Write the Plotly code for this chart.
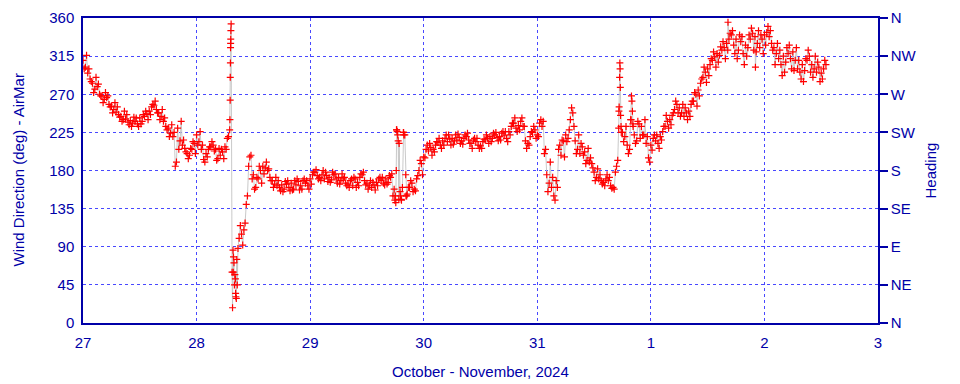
import numpy as np
import plotly.graph_objects as go

# Wind direction readings (deg) on the hour and half hour, from Oct 27 00:00
# (one line = 4 hours)
wind_deg = [
    310, 302, 295, 288, 283, 276, 279, 270,   # h0-3
    268, 264, 266, 258, 256, 252, 249, 246,   # h4-7
    244, 240, 241, 237, 239, 236, 238, 235,   # h8-11
    242, 238, 244, 247, 250, 255, 257, 252,   # h12-15
    248, 244, 238, 232, 230, 224, 220, 185,   # h16-19
    230, 215, 210, 206, 200, 198, 205, 212,   # h20-23
    222, 214, 205, 193, 200, 205, 208, 210,   # h24-27
    205, 194, 198, 202, 208, 218, 228, 60,    # h28-31
    45, 75, 100, 105, 110, 140, 185, 198,     # h32-35
    175, 160, 170, 180, 185, 183, 180, 172,   # h36-39
    168, 164, 162, 160, 163, 158, 164, 160,   # h40-43
    165, 158, 163, 167, 162, 168, 165, 162,   # h44-47
    170, 175, 178, 174, 172, 175, 170, 174,   # h48-51
    172, 169, 175, 170, 172, 168, 170, 165,   # h52-55
    164, 168, 162, 170, 166, 172, 175, 168,   # h56-59
    165, 162, 160, 163, 166, 170, 168, 165,   # h60-63
    170, 166, 172, 150, 150, 222, 155, 160,   # h64-67
    222, 152, 160, 165, 158, 170, 180, 188,   # h68-71
    196, 205, 203, 207, 205, 210, 213, 210,   # h72-75
    215, 218, 214, 217, 218, 215, 216, 219,   # h76-79
    215, 218, 220, 216, 212, 216, 214, 210,   # h80-83
    209, 214, 216, 218, 220, 218, 222, 219,   # h84-87
    220, 224, 221, 218, 226, 232, 236, 230,   # h88-91
    233, 238, 232, 215, 212, 220, 225, 228,   # h92-95
    222, 236, 232, 200, 175, 165, 160, 150,   # h96-99
    168, 205, 198, 215, 222, 218, 240, 248,   # h100-103
    215, 205, 200, 208, 202, 192, 190, 188,   # h104-107
    178, 172, 170, 168, 166, 170, 168, 162,   # h108-111
    160, 178, 192, 300, 225, 220, 210, 205,   # h112-115
    262, 222, 215, 235, 232, 222, 212, 195,   # h116-119
    210, 218, 215, 212, 220, 226, 232, 238,   # h120-123
    240, 245, 252, 258, 254, 248, 244, 248,   # h124-127
    250, 258, 262, 270, 275, 283, 290, 296,   # h128-131
    300, 305, 310, 314, 318, 316, 322, 325,   # h132-135
    330, 335, 340, 328, 335, 322, 332, 318,   # h136-139
    328, 325, 335, 342, 338, 330, 325, 335,   # h140-143
    340, 343, 338, 330, 325, 318, 312, 305,   # h144-147
    315, 308, 318, 312, 320, 310, 300, 296,   # h148-151
    305, 298, 310, 315, 305, 300, 296, 302,   # h152-155
    295, 300, 305,                            # h156-157
]

# Readings at quarter past (h+0.25) and quarter to (h+0.75) each hour, h0-h156
wind_deg_q1 = [
    300, 300, 272, 282, 260, 268, 248, 255, 238, 246, 232, 242, 235, 250, 246, 262,
    240, 242, 220, 225, 205, 216, 194, 214, 210, 210, 196, 214, 192, 205, 205, 345,
    35, 115, 118, 196, 158, 185, 176, 182, 160, 168, 155, 168, 157, 170, 158, 168,
    164, 181, 168, 178, 166, 176, 164, 172, 160, 172, 162, 178, 158, 166, 162, 172,
    164, 176, 228, 146, 150, 168, 156, 192, 195, 212, 202, 218, 210, 222, 211, 223,
    211, 224, 206, 218, 206, 222, 214, 225, 216, 226, 222, 242, 228, 232, 210, 232,
    220, 238, 155, 172, 160, 216, 214, 254, 200, 212, 188, 195, 168, 175, 162, 172,
    158, 250, 214, 200, 232, 238, 222, 220, 204, 222, 216, 245, 234, 262, 244, 254,
    244, 272, 268, 302, 292, 320, 308, 332, 322, 345, 312, 338, 315, 348, 320, 340,
    328, 345, 305, 322, 296, 328, 298, 310, 285, 322, 290, 308, 288,
]
wind_deg_q3 = [
    316, 285, 290, 268, 272, 255, 260, 243, 250, 234, 243, 232, 246, 240, 258, 248,
    252, 228, 234, 190, 238, 202, 206, 200, 226, 190, 208, 203, 206, 194, 220, 60,
    88, 92, 150, 170, 172, 165, 190, 168, 172, 156, 167, 156, 168, 157, 170, 158,
    178, 170, 180, 167, 178, 165, 176, 162, 170, 160, 176, 163, 168, 157, 172, 163,
    174, 158, 146, 225, 160, 155, 174, 175, 210, 198, 214, 206, 222, 210, 222, 212,
    222, 212, 218, 206, 217, 212, 224, 215, 226, 214, 236, 226, 242, 206, 226, 218,
    240, 205, 190, 145, 210, 196, 228, 232, 222, 198, 206, 183, 182, 164, 175, 159,
    185, 225, 232, 240, 212, 218, 240, 190, 222, 206, 232, 230, 248, 248, 258, 240,
    262, 256, 288, 284, 312, 302, 326, 312, 342, 318, 340, 305, 340, 322, 345, 318,
    350, 322, 330, 292, 325, 300, 325, 288, 312, 296, 315, 285, 310,
]

# Extra readings inside the fast swings (hours since Oct 27 00:00, deg)
spike_hours = [31.05, 31.1, 31.12, 31.15, 31.18, 31.2, 31.22, 31.3,
               31.6, 31.7, 31.8, 31.9, 32.1, 32.2, 32.3, 32.4, 32.6,
               65.9, 66.1, 66.2, 66.3, 66.4, 66.6, 66.8, 67.1, 67.3, 67.7, 67.8, 68.2, 68.4,
               113.2, 113.3, 113.4, 113.45, 113.55, 113.6, 113.7,
               115.8, 115.9, 116.1, 116.2, 136.3, 142.1]
spike_deg = [240, 263, 290, 307, 325, 330, 335, 353,
             18, 86, 78, 71, 57, 52, 31, 29, 45,
             145, 142, 180, 228, 226, 215, 212, 150, 145, 225, 222, 175, 150,
             230, 255, 290, 307, 278, 245, 232,
             240, 268, 250, 235, 355, 302]

day_ticks = [0, 24, 48, 72, 96, 120, 144, 168]
day_labels = ["27", "28", "29", "30", "31", "1", "2", "3"]
deg_ticks = [0, 45, 90, 135, 180, 225, 270, 315, 360]
compass_labels = ["N", "NE", "E", "SE", "S", "SW", "W", "NW", "N"]

main_hours = np.arange(len(wind_deg)) * 0.5
q1_hours = np.arange(len(wind_deg_q1)) + 0.25
q3_hours = np.arange(len(wind_deg_q3)) + 0.75

hours = np.concatenate([main_hours, q1_hours, q3_hours, spike_hours])
degs = np.concatenate([wind_deg, wind_deg_q1, wind_deg_q3, spike_deg])
order = np.argsort(hours, kind="stable")
hours = hours[order]
degs = degs[order]

AX = "#0000a8"
GRID = "rgba(40,40,255,0.85)"
FONT = "Liberation Sans, Arial, sans-serif"

fig = go.Figure()
fig.add_trace(go.Scatter(
    x=hours, y=degs, mode="lines",
    line=dict(color="rgba(195,195,195,0.9)", width=1),
    hoverinfo="skip", showlegend=False,
))
fig.add_trace(go.Scatter(
    x=hours, y=degs, mode="markers",
    marker=dict(symbol="cross-thin", size=5, line=dict(color="#ff0000", width=1.2), color="#ff0000"),
    showlegend=False,
))
fig.add_trace(go.Scatter(
    x=[day_ticks[0]], y=[deg_ticks[0]], yaxis="y2", mode="markers",
    marker=dict(opacity=0), hoverinfo="skip", showlegend=False,
))

# The page body adds an 8 px offset, so the figure is 8 px smaller each way
fig.update_layout(
    width=952, height=376,
    margin=dict(l=75, r=82, t=10, b=61),
    paper_bgcolor="white", plot_bgcolor="white",
    font=dict(family=FONT, size=15, color=AX),
    xaxis=dict(
        range=[0, 168], tickvals=day_ticks, ticktext=day_labels,
        showgrid=True, gridcolor=GRID, griddash="dot", gridwidth=1,
        showline=True, linecolor=AX, linewidth=1.5, mirror=True,
        ticks="outside", ticklen=5, tickcolor="rgba(0,0,0,0)",
        zeroline=False, tickfont=dict(size=15, color=AX), automargin=False,
    ),
    yaxis=dict(
        range=[0, 360], tickvals=deg_ticks,
        showgrid=True, gridcolor=GRID, griddash="dot", gridwidth=1,
        showline=True, linecolor=AX, linewidth=1.5, mirror=True,
        ticks="outside", ticklen=4, tickcolor="rgba(0,0,0,0)",
        zeroline=False, tickfont=dict(size=15, color=AX), automargin=False,
    ),
    yaxis2=dict(
        range=[0, 360], tickvals=deg_ticks, ticktext=compass_labels,
        overlaying="y", side="right", showgrid=False, zeroline=False,
        ticks="outside", ticklen=8, tickcolor=AX, tickwidth=1.5,
        showline=True, linecolor=AX, linewidth=1.5,
        tickfont=dict(size=15, color=AX), automargin=False,
    ),
    annotations=[
        dict(text="October - November, 2024", xref="paper", yref="paper",
             x=0.5, y=0, yshift=-48, showarrow=False, font=dict(size=15, color=AX),
             xanchor="center", yanchor="middle"),
        dict(text="Wind Direction (deg) - AirMar", xref="paper", yref="paper",
             x=0, xshift=-65, y=0.5, textangle=-90, showarrow=False,
             font=dict(size=15, color=AX), xanchor="center", yanchor="middle"),
        dict(text="Heading", xref="paper", yref="paper",
             x=1, xshift=52, y=0.5, textangle=-90, showarrow=False,
             font=dict(size=15, color=AX), xanchor="center", yanchor="middle"),
    ],
)

fig.write_html("out.html")
